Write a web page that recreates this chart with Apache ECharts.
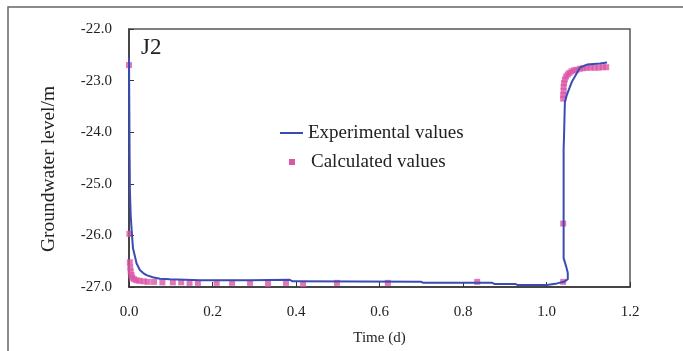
<!DOCTYPE html>
<html>
<head>
<meta charset="utf-8">
<script src="https://cdn.jsdelivr.net/npm/echarts@6/dist/echarts.min.js"></script>
<style>
  html, body { margin: 0; padding: 0; background: #fff; }
  #chart { width: 683px; height: 351px; }
</style>
</head>
<body>
<div id="chart"></div>
<script>
// Well J2: measured vs. simulated groundwater level over time
const expTime = [0, 0.0008, 0.0015, 0.0022, 0.004, 0.0065, 0.0096, 0.014, 0.018, 0.026, 0.034, 0.042,
  0.057, 0.074, 0.098, 0.17, 0.29, 0.385, 0.392, 0.70, 0.705, 0.87, 0.875, 0.925, 0.93, 1.001, 1.025,
  1.042, 1.051, 1.051, 1.047, 1.041, 1.041, 1.042, 1.044, 1.049, 1.056, 1.061, 1.068, 1.080, 1.097,
  1.128, 1.145];
const expLevel = [-22.55, -23.6, -24.5, -25.15, -25.6, -25.92, -26.25, -26.40, -26.54, -26.67, -26.73, -26.77,
  -26.81, -26.84, -26.85, -26.87, -26.87, -26.86, -26.89, -26.90, -26.92, -26.92, -26.94, -26.94, -26.96, -26.96, -26.93,
  -26.90, -26.85, -26.73, -26.60, -26.44, -24.33, -24.08, -23.42, -23.27, -23.12, -23.02, -22.92, -22.75, -22.69,
  -22.67, -22.65];

const calcTime = [0, 0.001, 0.002, 0.003, 0.004, 0.006, 0.008, 0.012, 0.018, 0.025, 0.035, 0.045, 0.06,
  0.08, 0.105, 0.125, 0.145, 0.165, 0.21, 0.247, 0.29, 0.333, 0.376, 0.417, 0.498, 0.62, 0.834, 1.040,
  1.040, 1.040, 1.040, 1.041, 1.041, 1.042, 1.044, 1.047, 1.051, 1.055, 1.060, 1.066, 1.072, 1.080,
  1.088, 1.096, 1.105, 1.115, 1.125, 1.135, 1.143];
const calcLevel = [-22.70, -25.97, -26.52, -26.62, -26.70, -26.77, -26.82, -26.85, -26.87, -26.88, -26.89, -26.90, -26.90,
  -26.91, -26.91, -26.91, -26.92, -26.92, -26.92, -26.92, -26.92, -26.94, -26.92, -26.94, -26.92, -26.92, -26.90, -26.90,
  -25.77, -23.35, -23.28, -23.20, -23.12, -23.05, -22.98, -22.92, -22.88, -22.85, -22.82, -22.80, -22.79, -22.77,
  -22.76, -22.75, -22.75, -22.75, -22.75, -22.74, -22.74];

const seriesNames = ['Experimental values', 'Calculated values'];
const yAxisTitle = 'Groundwater level/m';
const xAxisTitle = 'Time (d)';
const wellLabel = 'J2';

const serif = '"Liberation Serif", "Times New Roman", serif';
const textColor = '#222';
const blue = '#3a4bb3';
const pink = '#dc56a6';

const expData = expTime.map((t, i) => [t, expLevel[i]]);
const calcData = calcTime.map((t, i) => [t, calcLevel[i]]);

const chart = echarts.init(document.getElementById('chart'));
chart.setOption({
  backgroundColor: '#fff',
  animation: false,
  grid: {
    left: 129, top: 29, right: 53, bottom: 62,
    show: true, borderColor: '#555', borderWidth: 1.5, backgroundColor: 'transparent'
  },
  xAxis: {
    type: 'value', min: 0, max: 1.2, interval: 0.2,
    name: xAxisTitle, nameLocation: 'middle', nameGap: 44,
    nameTextStyle: { fontFamily: serif, fontSize: 15, color: textColor },
    axisLine: { show: true, onZero: false, lineStyle: { color: '#333', width: 1.5 } },
    axisTick: { show: true, inside: true, length: 5, lineStyle: { color: '#333' } },
    axisLabel: { fontFamily: serif, fontSize: 15, color: textColor, margin: 18,
      formatter: v => v.toFixed(1) },
    splitLine: { show: false }
  },
  yAxis: {
    type: 'value', min: -27, max: -22, interval: 1,
    axisLine: { show: true, onZero: false, lineStyle: { color: '#333', width: 1.5 } },
    axisTick: { show: true, inside: true, length: 5, lineStyle: { color: '#333' } },
    axisLabel: { fontFamily: serif, fontSize: 15, color: textColor, margin: 17,
      formatter: v => v.toFixed(1) },
    splitLine: { show: false }
  },
  series: [
    {
      name: seriesNames[0], type: 'line', data: expData,
      symbol: 'none', smooth: false, z: 3,
      lineStyle: { color: blue, width: 2 }
    },
    {
      name: seriesNames[1], type: 'scatter', data: calcData,
      symbol: 'rect', symbolSize: 6, z: 2,
      itemStyle: { color: pink }
    }
  ],
  graphic: [
    { type: 'rect', shape: { x: 8, y: 7, width: 720, height: 400 },
      style: { fill: 'none', stroke: '#666', lineWidth: 1.5 }, silent: true, z: 0 },
    { type: 'text', x: 49, y: 169, rotation: Math.PI / 2,
      style: { text: yAxisTitle, fontFamily: serif, fontSize: 19.5, fill: textColor,
        align: 'center', verticalAlign: 'middle' } },
    { type: 'text', x: 141, y: 48,
      style: { text: wellLabel, fontFamily: serif, fontSize: 23, fill: textColor,
        align: 'left', verticalAlign: 'middle' } },
    { type: 'line', shape: { x1: 280, y1: 133, x2: 303, y2: 133 },
      style: { stroke: blue, lineWidth: 2 } },
    { type: 'text', x: 308, y: 133,
      style: { text: seriesNames[0], fontFamily: serif, fontSize: 19, fill: textColor,
        align: 'left', verticalAlign: 'middle' } },
    { type: 'rect', shape: { x: 289, y: 159, width: 6, height: 6 },
      style: { fill: pink } },
    { type: 'text', x: 311, y: 162,
      style: { text: seriesNames[1], fontFamily: serif, fontSize: 19, fill: textColor,
        align: 'left', verticalAlign: 'middle' } }
  ]
});
</script>
</body>
</html>
